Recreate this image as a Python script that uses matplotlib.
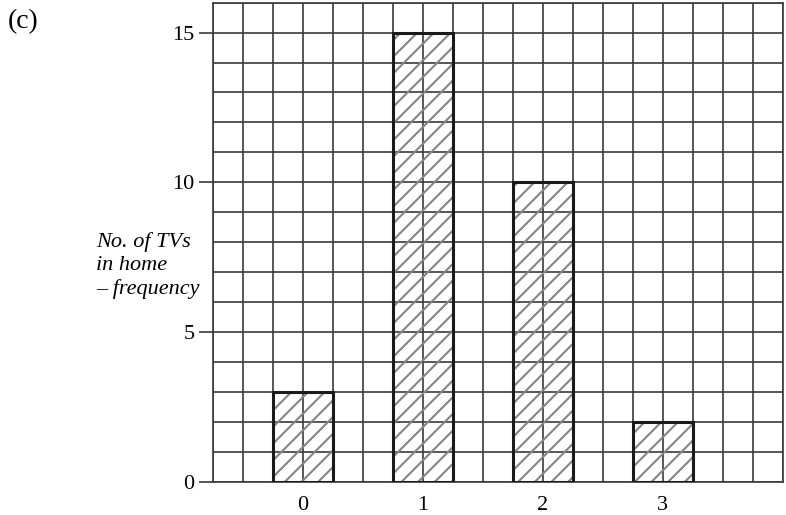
import numpy as np
import matplotlib
matplotlib.use('Agg')
import matplotlib.pyplot as plt

# number of TVs in the home and how many households reported each
tv_counts = [0, 1, 2, 3]
frequency = [3, 15, 10, 2]
y_ticks = [0, 5, 10, 15]

plt.rcParams['font.family'] = ['Liberation Serif', 'DejaVu Serif']
plt.rcParams['hatch.linewidth'] = 1.5

grid_col = '#3a3a3a'

fig = plt.figure(figsize=(7.86, 5.15), dpi=100)
ax = fig.add_axes([0.2706, 0.0647, 0.7252, 0.9301])

ax.set_xlim(-0.75, 4.0)
ax.set_ylim(0, 16)

# hatch layer (grey), then the black outline on top
ax.bar(tv_counts, frequency, width=0.5, facecolor='none',
       edgecolor='#858585', linewidth=0, hatch='//', zorder=2)
ax.bar(tv_counts, frequency, width=0.5, fill=False,
       edgecolor='#1a1a1a', linewidth=2.2, zorder=3)

ax.set_xticks(tv_counts)
ax.set_xticks(np.arange(-0.75, 4.01, 0.25), minor=True)
ax.set_yticks(y_ticks)
ax.set_yticks(np.arange(0, 16.1, 1), minor=True)

ax.grid(True, which='both', color=grid_col, linewidth=1.2, zorder=1)
ax.set_axisbelow(True)

for s in ax.spines.values():
    s.set_color(grid_col)
    s.set_linewidth(1.2)

ax.tick_params(axis='x', which='both', length=0, pad=10, labelsize=16)
ax.tick_params(axis='y', which='major', length=10, width=1.2,
               color=grid_col, pad=3, labelsize=16)
ax.tick_params(axis='y', which='minor', length=0)

ax.text(-1.72, 7.22, 'No. of TVs\nin home\n\u2013 frequency', fontsize=16,
        style='italic', ha='left', va='center', linespacing=1.25)

fig.text(0.010, 0.958, '(c)', fontsize=20, ha='left', va='center')

fig.savefig('out.png', dpi=100)
